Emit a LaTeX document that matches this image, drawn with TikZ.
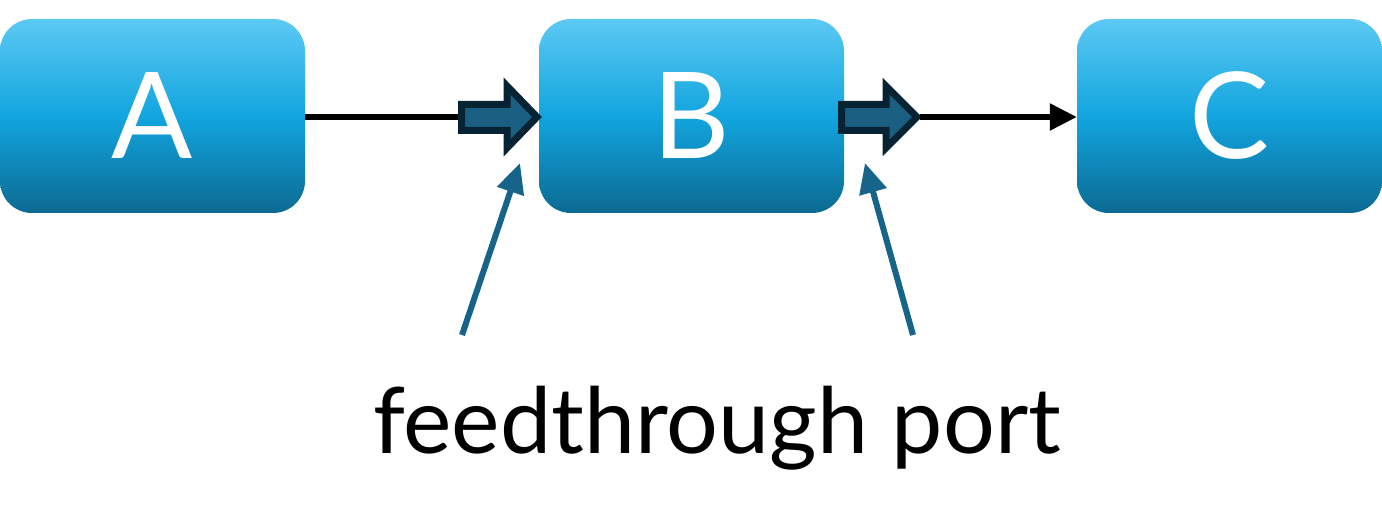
\documentclass[tikz,border=0pt]{standalone}
\usepackage{fontspec}
\setmainfont{Lato}
\usetikzlibrary{arrows.meta}
\definecolor{boxtop}{HTML}{5CC9F3}
\definecolor{boxmid}{HTML}{12A5DF}
\definecolor{boxbot}{HTML}{0B6A92}
\definecolor{portfill}{HTML}{1A5F82}
\definecolor{portdraw}{HTML}{062333}
\definecolor{pointer}{HTML}{17648A}
\tikzset{
  block/.style={rectangle, rounded corners=32pt, minimum width=305pt, minimum height=194pt,
    inner sep=0pt, top color=boxtop, bottom color=boxbot, middle color=boxmid,
    text=white, font=\fontsize{120}{120}\selectfont},
  port/.style={fill=portfill, draw=portdraw, line width=7pt, line join=miter},
  wire/.style={line width=5.5pt, black},
  pointerarrow/.style={line width=6pt, pointer, -{Triangle[length=30pt,width=27pt]}},
}
\begin{document}
\begin{tikzpicture}[x=1pt,y=-1pt]
\useasboundingbox (0,0) rectangle (1382,521);
\node[block] (A) at (152.5,116) {A};
\node[block] (B) at (691.5,116) {B};
\node[block] (C) at (1229.5,116) {C};
% feedthrough port arrows
\draw[port] (461.5,104.5) -- (507,104.5) -- (507,86) -- (537,117) -- (507,148) -- (507,130.5) -- (461.5,130.5) -- cycle;
\coordinate (p1in) at (458,117);
\coordinate (p1tip) at (520,163);
\draw[port] (841.5,104.5) -- (886,104.5) -- (886,86) -- (917,117) -- (886,148) -- (886,130.5) -- (841.5,130.5) -- cycle;
\coordinate (p2out) at (920,117);
\coordinate (p2tip) at (865,163);
\draw[wire] (A.east |- p1in) -- (p1in);
\draw[wire, -{Triangle[length=27pt,width=26pt]}] (p2out) -- (p2out -| C.west);
% label
\node[anchor=base, font=\fontsize{91.5}{91.5}\selectfont, inner sep=0pt] (lbl) at (717,453) {feedthrough port};
\coordinate (s1) at (462,335);
\coordinate (s2) at (913,335);
\draw[pointerarrow] (s1) -- (p1tip);
\draw[pointerarrow] (s2) -- (p2tip);
\end{tikzpicture}
\end{document}
